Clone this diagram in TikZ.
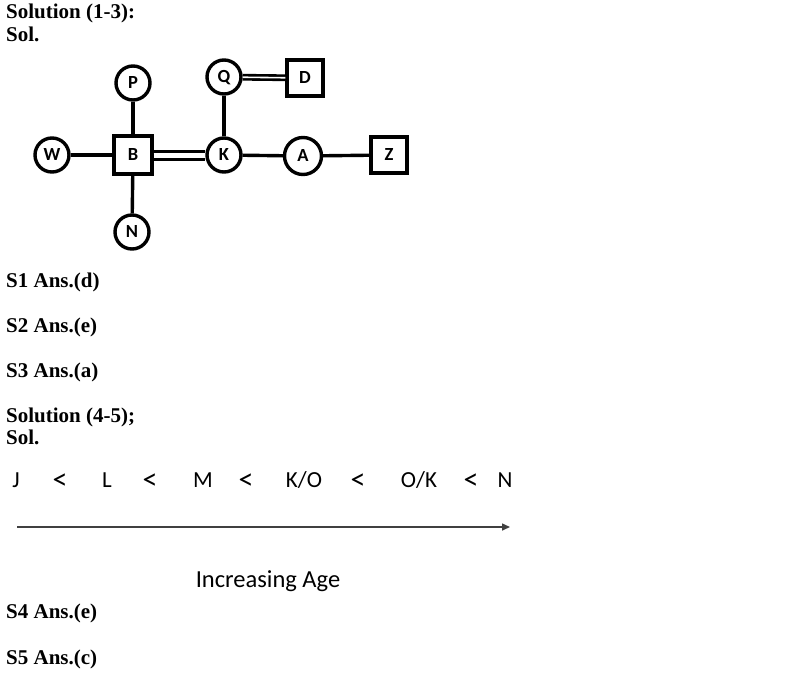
\documentclass[tikz,border=0pt]{standalone}
\usepackage{fontspec}
\setmainfont{Liberation Serif}
\newfontfamily\carlitofont{Carlito}
\usetikzlibrary{arrows.meta}
\begin{document}
\begin{tikzpicture}[x=1pt,y=-1pt,
  heading/.style={anchor=base west,inner sep=0pt,font=\fontsize{21}{24}\selectfont\bfseries},
  circ/.style={circle,draw,line width=3.4pt,minimum size=34pt,inner sep=0pt,text height=11.8pt,text depth=0pt,font=\carlitofont\fontsize{18.5}{19}\selectfont\bfseries},
  sq/.style={rectangle,draw,line width=3.4pt,minimum size=36pt,inner sep=0pt,text height=11.8pt,text depth=0pt,font=\carlitofont\fontsize{18.5}{19}\selectfont\bfseries},
  link/.style={line width=3.4pt},
  dlink/.style={line width=3pt,double,double distance=5pt},
  dlinkthin/.style={line width=2.6pt,double,double distance=1.6pt},
  seq/.style={anchor=base,inner sep=0pt,font=\carlitofont\fontsize{23}{26}\selectfont,text=black},
  lt/.style={anchor=base,inner sep=0pt,font=\carlitofont\fontsize{30}{30}\selectfont,text=black},
]
\useasboundingbox (0,0) rectangle (802,672);
\fill[white] (0,0) rectangle (802,672);

\node[heading] (h1) at (6,18) {Solution (1-3):};
\node[heading] (h2) at (6,41) {Sol.};

\node[circ] (P) at (133,83) {P};
\node[circ] (Q) at (224,77) {Q};
\node[sq]   (D) at (305,78) {D};
\node[circ] (W) at (52,155) {W};
\node[sq,minimum size=38pt] (B) at (133,155) {B};
\node[circ] (K) at (224,155) {K};
\node[circ,minimum size=37pt] (A) at (303,156) {A};
\node[sq]   (Z) at (389,155) {Z};
\node[circ] (N) at (132,232) {N};

\draw[link] (W) -- (B);
\draw[link] (P) -- (B);
\draw[link] (B) -- (N);
\draw[link] (K) -- (Q);
\draw[link] (K) -- (A);
\draw[link] (A) -- (Z);
\draw[dlink] (B) -- (K);
\draw[dlinkthin] (Q) -- (D);

\node[heading] (s1) at (6,287) {S1 Ans.(d)};
\node[heading] (s2) at (6,332) {S2 Ans.(e)};
\node[heading] (s3) at (6,377) {S3 Ans.(a)};
\node[heading] (h3) at (6,422) {Solution (4-5);};
\node[heading] (h4) at (6,444) {Sol.};

\node[seq] (J) at (16,487) {J};
\node[lt] (l1) at (60,489) {<};
\node[seq] (L) at (107,487) {L};
\node[lt] (l2) at (150,489) {<};
\node[seq] (M) at (203,487) {M};
\node[lt] (l3) at (246,489) {<};
\node[seq] (KO) at (304,487) {K/O};
\node[lt] (l4) at (358,489) {<};
\node[seq] (OK) at (419,487) {O/K};
\node[lt] (l5) at (471,489) {<};
\node[seq] (NN) at (505,487) {N};

\coordinate (a0) at (17,527);
\coordinate (a1) at (510,527);
\draw[line width=1.5pt,black!75,-{Triangle[length=8pt,width=7pt]}] (a0) -- (a1);

\node[seq,font=\carlitofont\fontsize{24.5}{28}\selectfont] (age) at (268,587) {Increasing Age};

\node[heading] (s4) at (6,618) {S4 Ans.(e)};
\node[heading] (s5) at (6,664) {S5 Ans.(c)};
\end{tikzpicture}
\end{document}
